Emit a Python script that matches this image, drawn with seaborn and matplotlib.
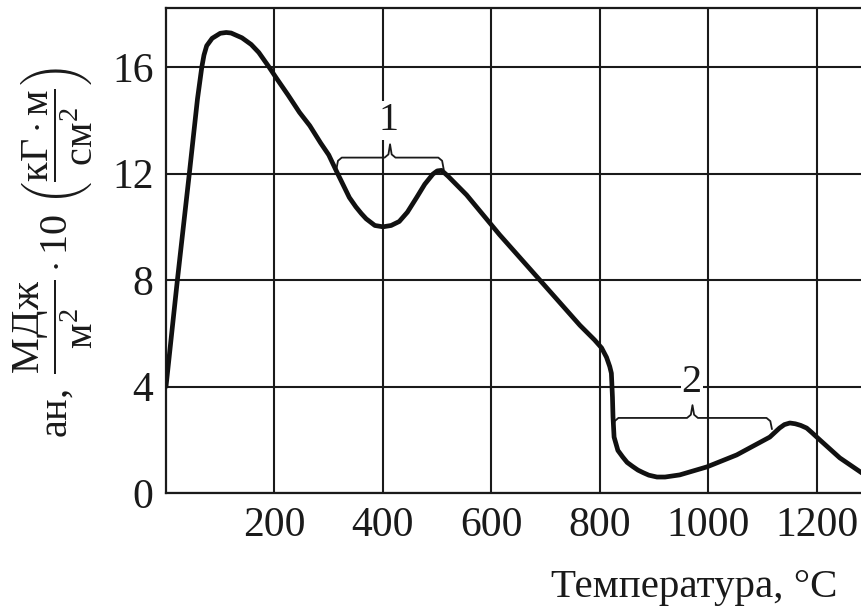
import matplotlib
matplotlib.use("Agg")
import matplotlib.pyplot as plt
import seaborn as sns

# curve: temperature (°C) vs impact strength
temp = [0, 21, 43, 58, 62, 66, 70, 75, 85, 100, 111, 120, 140, 157, 171, 190,
        203, 225, 246, 265, 285, 300, 314, 326, 338, 350, 360, 369, 385, 400,
        415, 430, 445, 462, 477, 492, 500, 508, 520, 554, 615, 700, 763, 790,
        803, 812, 818, 821, 823, 824, 826, 833, 842, 850, 860, 870, 880, 890,
        905, 920, 947, 997, 1052, 1113, 1131, 1140, 1150, 1160, 1170, 1181,
        1190, 1205, 1242, 1283]
impact = [4.0, 8.0, 12.0, 14.8, 15.4, 16.0, 16.45, 16.8, 17.08, 17.27, 17.3,
          17.28, 17.1, 16.85, 16.55, 16.0, 15.6, 14.95, 14.3, 13.8, 13.15,
          12.7, 12.1, 11.6, 11.1, 10.75, 10.5, 10.3, 10.05, 10.0, 10.05, 10.2,
          10.55, 11.1, 11.6, 11.98, 12.1, 12.12, 11.9, 11.2, 9.7, 7.75, 6.3,
          5.75, 5.45, 5.1, 4.75, 4.5, 3.6, 2.86, 2.1, 1.6, 1.35, 1.15, 1.0,
          0.86, 0.76, 0.67, 0.6, 0.6, 0.68, 0.98, 1.43, 2.1, 2.44, 2.57, 2.63,
          2.6, 2.54, 2.44, 2.28, 2.0, 1.32, 0.75]

x_ticks = [200, 400, 600, 800, 1000, 1200]
y_ticks = [0, 4, 8, 12, 16]

# braces: (x_left, x_right, y_ends, y_bar, y_tip, label, label_x, label_y)
braces = [
    (314, 512, 12.15, 12.6, 13.1, "1", 410, 14.0),
    (824, 1117, 2.4, 2.82, 3.3, "2", 969, 4.15),
]

ink = "#1a1a1a"

sns.set_style("white")
plt.rcParams["font.family"] = ["Liberation Serif", "DejaVu Serif"]
plt.rcParams["mathtext.fontset"] = "custom"
plt.rcParams["mathtext.rm"] = "Liberation Serif"
plt.rcParams["mathtext.it"] = "Liberation Serif:italic"

fig = plt.figure(figsize=(8.62, 6.07), dpi=100)
ax = fig.add_axes([166 / 862, 114 / 607, 1 - 166 / 862, 485 / 607])

ax.set_xlim(0, 1283)
ax.set_ylim(0, 18.22)
ax.set_xticks(x_ticks)
ax.set_yticks(y_ticks)
ax.grid(True, color=ink, linewidth=1.5)
ax.set_axisbelow(True)
for side in ["left", "top", "bottom"]:
    ax.spines[side].set_color(ink)
    ax.spines[side].set_linewidth(1.6)
ax.spines["right"].set_visible(False)
ax.tick_params(length=0, labelsize=30, colors=ink)
ax.tick_params(axis="x", pad=10)
ax.tick_params(axis="y", pad=9)

sns.lineplot(x=temp, y=impact, ax=ax, color="#111111", linewidth=3.4,
             estimator=None, sort=False, zorder=5)


def brace(x0, x1, ye, yb, yt):
    xm = (x0 + x1) / 2
    h = 10
    xs = [x0, x0 + 3, x0 + h, xm - h, xm - 3, xm, xm + 3, xm + h, x1 - h, x1 - 3, x1]
    ys = [ye, yb - 0.12, yb, yb, yb + 0.12, yt, yb + 0.12, yb, yb, yb - 0.12, ye]
    ax.plot(xs, ys, color=ink, linewidth=1.3, zorder=4)


for x0, x1, ye, yb, yt, lab, lx, ly in braces:
    brace(x0, x1, ye, yb, yt)
    ax.text(lx, ly, lab, fontsize=29, color=ink, ha="center", va="center",
            zorder=6, bbox=dict(facecolor="white", edgecolor="none", pad=0.5))

ylabel = (r"$\mathrm{ан,}\ \dfrac{\mathrm{МДж}}{\mathrm{м}^{2}}\cdot 10\ "
          r"\left(\dfrac{\mathrm{кГ}\cdot\mathrm{м}}{\mathrm{см}^{2}}\right)$")
fig.text(53 / 862, (607 - 252) / 607, ylabel, rotation=90, fontsize=29,
         color=ink, ha="center", va="center")
fig.text(838 / 862, 10 / 607, "Температура, °С", fontsize=29.5, color=ink,
         ha="right", va="baseline")

fig.savefig("out.png", dpi=100)
